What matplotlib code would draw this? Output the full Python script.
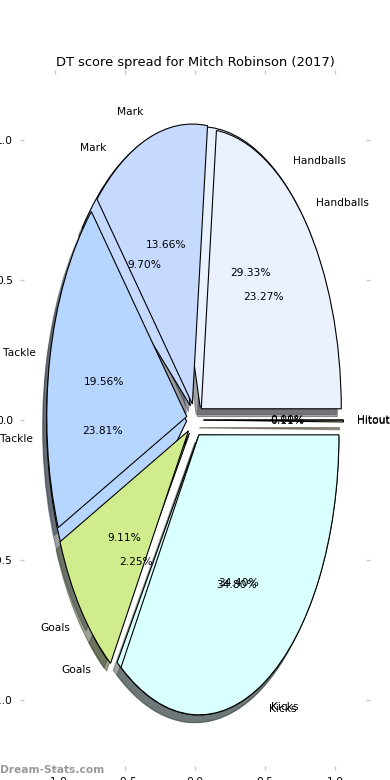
import matplotlib
matplotlib.use('Agg')
import matplotlib.pyplot as plt

# wedge order as drawn (counter-clockwise from 0 degrees)
categories = ['Handballs', 'Mark', 'Tackle', 'Goals', 'Kicks', 'Hitout']
colors = ['#eaf1ff', '#c6d9ff', '#b6d6ff', '#d0ec8c', '#d9fffe', '#ffe0b0']

# two spreads drawn on top of each other (percent of DT score)
spread_a = [29.33, 9.70, 23.81, 2.25, 34.80, 0.11]
spread_b = [23.27, 13.66, 19.56, 9.11, 34.40, 0.0]

title = 'DT score spread for Mitch Robinson (2017)'
ticks = [-1.0, -0.5, 0.0, 0.5, 1.0]

fig = plt.figure(figsize=(3.9, 7.8), dpi=100)
ax = fig.add_axes([20 / 390, 10 / 780, 350 / 390, 700 / 780])

explode = [0.06] * len(categories)
for vals in (spread_a, spread_b):
    ax.pie(vals, labels=categories, colors=colors, explode=explode,
           autopct='%1.2f%%', shadow=True, startangle=0,
           wedgeprops={'edgecolor': 'black', 'linewidth': 0.8},
           textprops={'fontsize': 7.7})

ax.set_aspect('auto')
ax.set_xlim(-1.25, 1.25)
ax.set_ylim(-1.25, 1.25)
ax.set_xticks(ticks)
ax.set_yticks(ticks)
ax.tick_params(direction='in', length=3, width=1, color='#c8c8c8',
               labelsize=7.7, top=True, right=True, pad=5)
for s in ax.spines.values():
    s.set_visible(False)
ax.set_title(title, fontsize=9.4, pad=3)

fig.text(0.0, 0.006, 'Dream-Stats.com', fontsize=7.7, color='#999999',
         fontweight='bold', ha='left', va='bottom')

fig.savefig('out.png', dpi=100)
